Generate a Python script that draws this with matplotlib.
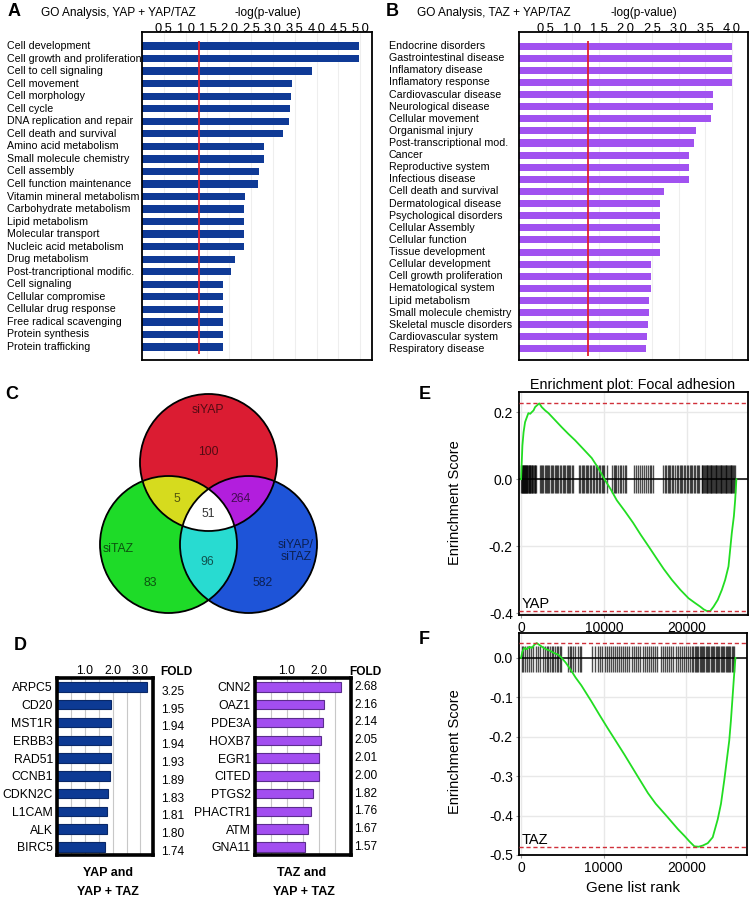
import numpy as np
import matplotlib
matplotlib.use("Agg")
import matplotlib.pyplot as plt
from matplotlib.patches import Circle
from matplotlib.transforms import blended_transform_factory

plt.rcParams['font.family'] = ['Liberation Sans', 'DejaVu Sans']

# ---- data ----
# A : GO analysis YAP + YAP/TAZ
go_yap_terms = ["Cell development", "Cell growth and proliferation", "Cell to cell signaling",
                "Cell movement", "Cell morphology", "Cell cycle", "DNA replication and repair",
                "Cell death and survival", "Amino acid metabolism", "Small molecule chemistry",
                "Cell assembly", "Cell function maintenance", "Vitamin mineral metabolism",
                "Carbohydrate metabolism", "Lipid metabolism", "Molecular transport",
                "Nucleic acid metabolism", "Drug metabolism", "Post-trancriptional modific.",
                "Cell signaling", "Cellular compromise", "Cellular drug response",
                "Free radical scavenging", "Protein synthesis", "Protein trafficking"]
go_yap_vals = [4.97, 4.97, 3.90, 3.43, 3.42, 3.39, 3.36, 3.24, 2.79, 2.79, 2.67, 2.65, 2.35,
               2.33, 2.33, 2.33, 2.33, 2.13, 2.05, 1.86, 1.86, 1.86, 1.86, 1.86, 1.86]
go_yap_ticks = [0.5, 1.0, 1.5, 2.0, 2.5, 3.0, 3.5, 4.0, 4.5, 5.0]

# B : GO analysis TAZ + YAP/TAZ
go_taz_terms = ["Endocrine disorders", "Gastrointestinal disease", "Inflamatory disease",
                "Inflamatory response", "Cardiovascular disease", "Neurological disease",
                "Cellular movement", "Organismal injury", "Post-transcriptional mod.", "Cancer",
                "Reproductive system", "Infectious disease", "Cell death and survival",
                "Dermatological disease", "Psychological disorders", "Cellular Assembly",
                "Cellular function", "Tissue development", "Cellular development",
                "Cell growth proliferation", "Hematological system", "Lipid metabolism",
                "Small molecule chemistry", "Skeletal muscle disorders", "Cardiovascular system",
                "Respiratory disease"]
go_taz_vals = [4.0, 4.0, 4.0, 4.0, 3.64, 3.64, 3.61, 3.32, 3.28, 3.20, 3.20, 3.19, 2.72,
               2.64, 2.64, 2.64, 2.64, 2.64, 2.48, 2.48, 2.48, 2.45, 2.45, 2.43, 2.40, 2.38]
go_taz_ticks = [0.5, 1.0, 1.5, 2.0, 2.5, 3.0, 3.5, 4.0]
p_threshold = 1.3

# C : Venn counts
venn_counts = {"R": 100, "G": 83, "B": 582, "RG": 5, "RB": 264, "GB": 96, "RGB": 51}

# D : fold changes
yap_genes = ["ARPC5", "CD20", "MST1R", "ERBB3", "RAD51", "CCNB1", "CDKN2C", "L1CAM", "ALK", "BIRC5"]
yap_fold = [3.25, 1.95, 1.94, 1.94, 1.93, 1.89, 1.83, 1.81, 1.80, 1.74]
taz_genes = ["CNN2", "OAZ1", "PDE3A", "HOXB7", "EGR1", "CITED", "PTGS2", "PHACTR1", "ATM", "GNA11"]
taz_fold = [2.68, 2.16, 2.14, 2.05, 2.01, 2.00, 1.82, 1.76, 1.67, 1.57]

# E : GSEA YAP
yap_rank = [0, 80, 160, 300, 480, 700, 880, 1100, 1290, 1500, 1690, 2000, 2200, 2490, 2900,
            3300, 4100, 4900, 5700, 6510, 7500, 8520, 9300, 10050, 10800, 11540, 12500, 13500,
            14400, 15360, 16300, 17200, 18170, 19200, 20180, 20900, 21590, 22000, 22390, 22800,
            23200, 23700, 24200, 24600, 25000, 25400, 25650, 25800, 25950]
yap_es = [0, 0.05, 0.10, 0.14, 0.17, 0.185, 0.197, 0.195, 0.20, 0.205, 0.215, 0.222, 0.226,
          0.215, 0.205, 0.197, 0.176, 0.155, 0.135, 0.116, 0.09, 0.063, 0.033, 0.0, -0.03,
          -0.063, -0.095, -0.13, -0.165, -0.2, -0.235, -0.268, -0.30, -0.33, -0.355, -0.368,
          -0.38, -0.388, -0.393, -0.393, -0.38, -0.36, -0.33, -0.30, -0.26, -0.16, -0.11,
          -0.063, 0.0]
yap_hits = [30, 90, 150, 210, 270, 330, 390, 450, 520, 580, 640, 700, 770, 830, 900, 960,
            1030, 1100, 1180, 1260, 1350, 1440, 1530, 1620, 1720, 1820,
            2300, 2420, 2560, 2700, 2860, 2980, 3150, 3280, 3420, 3600, 3760, 3900, 4050,
            4230, 4380, 4500, 4700, 4850, 5000, 5150, 5300, 5480, 5620, 5780, 5950, 6120, 6280,
            7020, 7150, 7300, 7480, 7640, 7800, 7950, 8120, 8300, 8460, 8620, 8800, 8980, 9100,
            9350, 9520, 9700, 9880, 10050, 10300,
            10950, 11150, 11300, 11500, 11700, 11900, 12100, 12300, 12550, 12700,
            13650, 13850, 14050, 14350, 14550, 14800, 15050, 15300, 15500, 15700, 15900,
            17100, 17300, 17450, 17650, 17800, 18000, 18200, 18350, 18550, 18750, 18900,
            19100, 19300, 19450, 19650, 19800, 20000, 20150, 20300, 20500, 20650, 20800,
            21000, 21150, 21300, 21450,
            21750, 21850, 21950, 22050, 22150, 22250, 22350, 22450, 22550, 22650, 22750,
            22850, 22950, 23050, 23150, 23250, 23350, 23450, 23550, 23650, 23750, 23850,
            23950, 24050, 24150, 24250, 24350, 24450, 24550, 24650, 24750, 24850, 24950,
            25050, 25150, 25250, 25350, 25450, 25550, 25650, 25750]

# F : GSEA TAZ
taz_rank = [0, 150, 400, 700, 1000, 1300, 1600, 1890, 2200, 2600, 3000, 3500, 4000, 4500,
            4900, 5400, 6000, 6600, 7300, 8500, 9500, 10530, 11140, 12500, 14100, 15360, 16300,
            17570, 18970, 19800, 20400, 20980, 21500, 22000, 22600, 23200, 23800, 24200, 24600,
            24900, 25200, 25400, 25600, 25800, 25950]
taz_es = [0, 0.015, 0.025, 0.022, 0.028, 0.025, 0.033, 0.0375, 0.033, 0.027, 0.022, 0.018,
          0.012, 0.008, 0.0, -0.012, -0.03, -0.05, -0.07, -0.11, -0.145, -0.18, -0.2, -0.245,
          -0.30, -0.343, -0.37, -0.40, -0.434, -0.452, -0.466, -0.478, -0.479, -0.476, -0.47,
          -0.455, -0.41, -0.37, -0.31, -0.26, -0.21, -0.16, -0.10, -0.04, 0.0]
taz_hits = [60, 250, 450, 700, 950, 1200, 1480, 1750, 2000, 2280, 2700, 2900, 3100, 3300,
            3500, 3700, 3900, 4100, 4300, 4500, 4700, 4880,
            5700, 5900, 6100, 6300, 6500, 6900, 7100, 7300,
            8550, 9000, 9300, 9600, 9850, 10100, 10350, 10600, 10850, 11100, 11350, 11600,
            11850, 12100, 12350, 12600, 12850, 13100, 13400, 13650, 13900, 14150, 14400,
            14700, 14950, 15200, 15450, 15700, 15950, 16250, 16500,
            16950, 17200, 17450, 17700, 17950, 18200, 18450, 18700, 18950, 19200, 19450,
            19700, 19950, 20200, 20450, 20650, 20850, 21000, 21150, 21300, 21450, 21600,
            21750, 21900, 22050, 22200, 22350, 22500, 22650, 22800, 22950, 23100, 23250,
            23400, 23550, 23700, 23850, 24000, 24150, 24300, 24450, 24600, 24750, 24900,
            25050, 25200, 25350, 25500, 25650, 25800]

# ---- figure ----
W, H = 753, 900
fig = plt.figure(figsize=(W / 100, H / 100), dpi=100)


def px_axes(l, t, r, b):
    return fig.add_axes([l / W, 1 - b / H, (r - l) / W, (b - t) / H])


def px_text(x, y, s, **kw):
    fig.text(x / W, 1 - y / H, s, **kw)


def go_panel(ax, terms, vals, ticks, color, xmax, top_pad, bot_pad, label_x):
    n = len(terms)
    rows = np.arange(n)
    ax.barh(rows, vals, height=0.58, color=color, zorder=2)
    ax.vlines(p_threshold, -0.4, n - 0.4, color='#e02030', lw=1.3, zorder=3)
    ax.set_xlim(0, xmax)
    ax.set_ylim(n - 1 + bot_pad, -top_pad)
    ax.set_xticks(ticks)
    ax.set_xticklabels(["%.1f" % t for t in ticks], fontsize=9.3)
    ax.xaxis.tick_top()
    ax.tick_params(axis='x', length=0, pad=-2.5)
    ax.set_yticks([])
    ax.grid(axis='x', color='#eeeeee', lw=0.8, zorder=0)
    for s in ax.spines.values():
        s.set_linewidth(1.3)
    tr = blended_transform_factory(ax.transAxes, ax.transData)
    bb = ax.get_position()
    for i, t in enumerate(terms):
        xf = (label_x / W - bb.x0) / bb.width
        ax.text(xf, i, t, transform=tr, ha='left', va='center', fontsize=7.7)


# A
axA = px_axes(142, 32, 372, 360)
go_panel(axA, go_yap_terms, go_yap_vals, go_yap_ticks, '#0f3a96', 5.27, 1.12, 1.04, 7)
px_text(14, 12, "A", fontsize=13, fontweight='bold', ha='center', va='center')
px_text(41, 13, "GO Analysis, YAP + YAP/TAZ", fontsize=8.6, ha='left', va='center')
px_text(268, 13, "-log(p-value)", fontsize=8.6, ha='center', va='center')

# B
axB = px_axes(519, 32, 748, 360)
go_panel(axB, go_taz_terms, go_taz_vals, go_taz_ticks, '#a152f0', 4.3, 1.16, 0.91, 389)
px_text(392, 12, "B", fontsize=13, fontweight='bold', ha='center', va='center')
px_text(417, 13, "GO Analysis, TAZ + YAP/TAZ", fontsize=8.6, ha='left', va='center')
px_text(644, 13, "-log(p-value)", fontsize=8.6, ha='center', va='center')

# C  Venn
axC = px_axes(90, 385, 330, 620)
axC.set_xlim(90, 330)
axC.set_ylim(620, 385)
axC.axis('off')
r = 68.5
cR, cG, cB = (208.5, 462.5), (168.5, 544.5), (248.5, 544.5)
xs = np.arange(90, 330, 0.25) + 0.125
ys = np.arange(385, 620, 0.25) + 0.125
X, Y = np.meshgrid(xs, ys)
inR = (X - cR[0]) ** 2 + (Y - cR[1]) ** 2 <= r ** 2
inG = (X - cG[0]) ** 2 + (Y - cG[1]) ** 2 <= r ** 2
inB = (X - cB[0]) ** 2 + (Y - cB[1]) ** 2 <= r ** 2
img = np.zeros((len(ys), len(xs), 4))
region_cols = {"R": (0.86, 0.11, 0.20), "G": (0.12, 0.86, 0.16), "B": (0.12, 0.33, 0.85),
               "RG": (0.84, 0.86, 0.12), "RB": (0.70, 0.12, 0.87), "GB": (0.16, 0.86, 0.82),
               "RGB": (1, 1, 1)}
masks = {"R": inR & ~inG & ~inB, "G": inG & ~inR & ~inB, "B": inB & ~inR & ~inG,
         "RG": inR & inG & ~inB, "RB": inR & inB & ~inG, "GB": inG & inB & ~inR,
         "RGB": inR & inG & inB}
for k, m in masks.items():
    img[m, :3] = region_cols[k]
    img[m, 3] = 1
axC.imshow(img, extent=(90, 330, 620, 385), origin='upper', aspect='auto', interpolation='bilinear')
for c in (cR, cG, cB):
    axC.add_patch(Circle(c, r, fill=False, ec='black', lw=1.3))


def dark(c, f=0.38):
    return tuple(v * f for v in c)


venn_pos = {"R": (208, 452), "RG": (177, 499), "RB": (241, 499), "RGB": (208, 514),
            "GB": (207, 562), "G": (150, 583), "B": (263, 583)}
for k, (x, y) in venn_pos.items():
    col = dark(region_cols[k]) if k != "RGB" else '#333333'
    axC.text(x, y, str(venn_counts[k]), ha='center', va='center', fontsize=8.8, color=col)
axC.text(208, 410, "siYAP", ha='center', va='center', fontsize=8.8, color=dark(region_cols["R"]))
axC.text(118, 549, "siTAZ", ha='center', va='center', fontsize=8.8, color=dark(region_cols["G"]))
axC.text(296, 551, "siYAP/\nsiTAZ", ha='center', va='center', fontsize=8.8,
         color=dark(region_cols["B"]), linespacing=1.0)
px_text(12, 394, "C", fontsize=13, fontweight='bold', ha='center', va='center')


# D  fold change bars
def fold_panel(ax, genes, fold, color, edge, xmax, ticks, val_x, val_dy, val_ha):
    rows = np.arange(len(genes))
    ax.barh(rows, fold, height=0.53, color=color, edgecolor=edge, lw=0.8, zorder=2)
    ax.set_xlim(0, xmax)
    ax.set_ylim(len(genes) - 1 + 0.45, -0.5)
    ax.set_xticks(ticks)
    ax.set_xticklabels(["%.1f" % t for t in ticks], fontsize=8.8)
    ax.xaxis.tick_top()
    ax.tick_params(axis='x', length=0, pad=0.5)
    ax.set_yticks(rows)
    ax.set_yticklabels(genes, fontsize=8.8)
    ax.tick_params(axis='y', length=0, pad=3)
    for g in np.arange(0.5, xmax, 0.5):
        ax.axvline(g, color='#c8c8c8', lw=0.8, zorder=1)
    for s in ax.spines.values():
        s.set_linewidth(2.6)
    tr = blended_transform_factory(ax.transAxes, ax.transData)
    bb = ax.get_position()
    xf = (val_x / W - bb.x0) / bb.width
    for i, v in enumerate(fold):
        ax.text(xf, i + val_dy, "%.2f" % v, transform=tr, ha=val_ha, va='center', fontsize=8.6)


axD1 = px_axes(57, 678, 153, 855)
fold_panel(axD1, yap_genes, yap_fold, '#0d3a94', '#0a2868', 3.45, [1.0, 2.0, 3.0], 173, 0.28, 'center')
axD2 = px_axes(255, 678, 351, 855)
fold_panel(axD2, taz_genes, taz_fold, '#a24ef0', '#5b2d8e', 3.0, [1.0, 2.0], 354, 0.0, 'left')
px_text(20, 646, "D", fontsize=13, fontweight='bold', ha='center', va='center')
px_text(160, 672, "FOLD", fontsize=8.6, fontweight='bold', ha='left', va='center')
px_text(349, 672, "FOLD", fontsize=8.6, fontweight='bold', ha='left', va='center')
px_text(108, 873, "YAP and", fontsize=9, fontweight='bold', ha='center', va='center')
px_text(108, 892, "YAP + TAZ", fontsize=9, fontweight='bold', ha='center', va='center')
px_text(302, 873, "TAZ and", fontsize=9, fontweight='bold', ha='center', va='center')
px_text(304, 892, "YAP + TAZ", fontsize=9, fontweight='bold', ha='center', va='center')


# E / F  GSEA plots
def gsea_panel(ax, rank, es, hits, hit_lo, hit_hi, ylim, yticks, name, show_xlabel):
    ax.set_xlim(-250, 27350)
    ax.set_ylim(*ylim)
    ax.set_xticks([0, 10000, 20000])
    ax.set_yticks(yticks)
    ax.set_yticklabels(["%.1f" % t for t in yticks], fontsize=10)
    ax.tick_params(axis='both', labelsize=10, length=2.5, color='#999999', pad=2)
    ax.grid(True, color='#e8e8e8', lw=1.0, zorder=0)
    ax.vlines(hits, hit_lo, hit_hi, color='black', lw=1.0, alpha=0.7, zorder=2)
    ax.axhline(0, color='black', lw=1.1, zorder=2)
    ax.plot(rank, es, color='#22dd22', lw=1.3, zorder=3)
    ax.axhline(max(es), color='#d0303a', lw=1.0, ls=(0, (3, 2)), zorder=3, clip_on=False)
    ax.axhline(min(es), color='#d0303a', lw=1.0, ls=(0, (3, 2)), zorder=3, clip_on=False)
    for s in ax.spines.values():
        s.set_linewidth(1.3)
    ax.text(0.01, min(es), name, ha='left', va='bottom', fontsize=10.5,
            transform=blended_transform_factory(ax.transAxes, ax.transData))
    if show_xlabel:
        ax.set_xlabel("Gene list rank", fontsize=11, labelpad=4)


axE = px_axes(519, 392, 748, 615)
gsea_panel(axE, yap_rank, yap_es, yap_hits, -0.042, 0.042, (-0.405, 0.26),
           [0.2, 0.0, -0.2, -0.4], "YAP", False)
axF = px_axes(519, 633, 747, 855)
gsea_panel(axF, taz_rank, taz_es, taz_hits, -0.035, 0.03, (-0.495, 0.063),
           [0.0, -0.1, -0.2, -0.3, -0.4, -0.5], "TAZ", True)
px_text(633, 385, "Enrichment plot: Focal adhesion", fontsize=10.3, ha='center', va='center')
px_text(455, 503, "Enrinchment Score", fontsize=10.5, rotation=90, ha='center', va='center')
px_text(455, 752, "Enrinchment Score", fontsize=10.5, rotation=90, ha='center', va='center')
px_text(425, 394, "E", fontsize=13, fontweight='bold', ha='center', va='center')
px_text(424, 640, "F", fontsize=13, fontweight='bold', ha='center', va='center')

fig.savefig("out.png", dpi=100)
